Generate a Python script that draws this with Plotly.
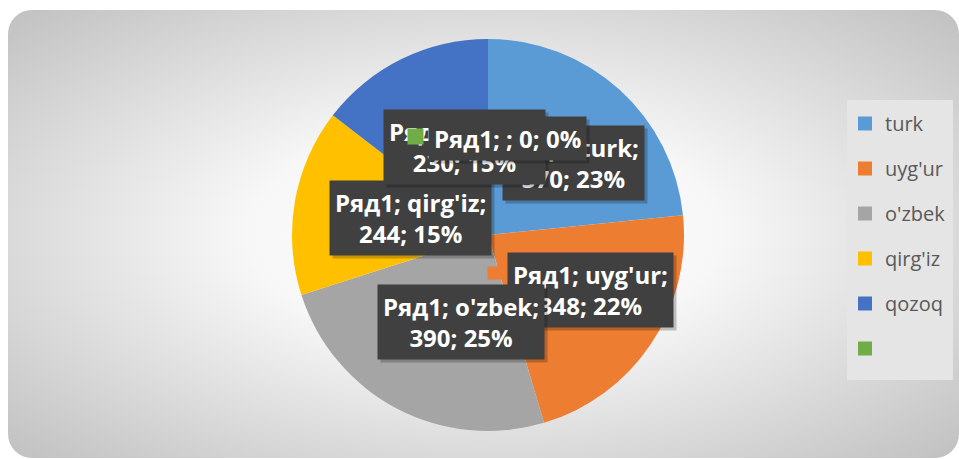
import base64
import plotly.graph_objects as go

# ---------------- data ----------------
series_name = "Ряд1"
categories = ["turk", "uyg'ur", "o'zbek", "qirg'iz", "qozoq", ""]
values = [370, 348, 390, 244, 230, 0]
colors = ["#5B9BD5", "#ED7D31", "#A5A5A5", "#FFC000", "#4472C4", "#70AD47"]

# ---------------- layout helpers ----------------
W, H = 959, 459


def px(x):
    return x / W


def py(y):
    return 1 - y / H


total = sum(values)
pcts = [round(v / total * 100) for v in values]

# label box centres (pixels) - layout only
label_centres = [(573, 163), (590, 290), (461, 322), (410, 218), (464, 147), (507, 138)]

fig = go.Figure()

# background image (rounded rect with radial gradient)
svg = (
    '<svg xmlns="http://www.w3.org/2000/svg" width="959" height="459" viewBox="0 0 959 459">'
    '<defs><radialGradient id="g" cx="50%" cy="50%" r="71%">'
    '<stop offset="0" stop-color="#ffffff"/><stop offset="0.35" stop-color="#f7f7f7"/>'
    '<stop offset="1" stop-color="#c0c0c0"/></radialGradient></defs>'
    '<rect x="8" y="10" width="951" height="448" rx="24" ry="24" fill="url(#g)"/></svg>'
)
src = "data:image/svg+xml;base64," + base64.b64encode(svg.encode()).decode()

cx, cy, r = 488, 235, 196
fig.add_trace(go.Pie(
    labels=[c if c else " " for c in categories],
    values=values,
    marker=dict(colors=colors, line=dict(width=0)),
    sort=False,
    direction="clockwise",
    rotation=0,
    textinfo="none",
    hoverinfo="label+value+percent",
    showlegend=False,
    domain=dict(x=[px(cx - r), px(cx + r)], y=[py(cy + r), py(cy - r)]),
))

# legend entries
for i, (c, col) in enumerate(zip(categories, colors)):
    fig.add_trace(go.Scatter(
        x=[None], y=[None], mode="markers", name=c,
        marker=dict(symbol="square", size=14, color=col),
        legendgroup=f"g{i}", showlegend=True, hoverinfo="skip",
    ))

annotations = []
label_font = dict(family="Open Sans", size=24, color="white", weight="bold")
common = dict(xref="paper", yref="paper", xanchor="center", yanchor="middle", showarrow=False)
for i, (c, v, p) in enumerate(zip(categories, values, pcts)):
    if c:
        txt = f"{series_name}; {c};<br>{v}; {p}%"
    else:
        txt = f"{series_name}; ; {v}; {p}%"
    x0, y0 = label_centres[i]
    # shadow
    annotations.append(dict(
        common, x=px(x0 + 3), y=py(y0 + 3), text=txt,
        font=dict(label_font, color="rgba(0,0,0,0)"),
        bgcolor="rgba(0,0,0,0.22)", borderpad=5, align="center",
    ))
    if i == 1:
        annotations.append(dict(
            common, x=px(497), y=py(273), text=" ",
            bgcolor=colors[1], width=18, height=12, borderpad=0,
        ))
    annotations.append(dict(
        common, x=px(x0), y=py(y0), text=txt, font=label_font,
        bgcolor="#404040", borderpad=5, align="center",
    ))
    if not c:
        annotations.append(dict(
            common, x=px(415), y=py(136), text=" ",
            bgcolor=colors[i], width=15, height=15, borderpad=0,
        ))

fig.update_layout(
    width=W, height=H,
    margin=dict(l=0, r=0, t=0, b=0),
    paper_bgcolor="white",
    plot_bgcolor="rgba(0,0,0,0)",
    xaxis=dict(visible=False),
    yaxis=dict(visible=False),
    images=[dict(source=src, xref="paper", yref="paper", x=0, y=1, sizex=1, sizey=1,
                 xanchor="left", yanchor="top", sizing="stretch", layer="below")],
    shapes=[dict(type="rect", xref="paper", yref="paper",
                 x0=px(847), x1=px(953), y0=py(380), y1=py(100),
                 fillcolor="#e5e5e5", line=dict(width=0), layer="below")],
    legend=dict(
        x=px(845), y=py(104), xanchor="left", yanchor="top",
        bgcolor="rgba(0,0,0,0)", tracegroupgap=16,
        font=dict(family="Open Sans", size=20, color="#595959"),
    ),
    annotations=annotations,
)

fig.write_html(
    "out.html",
    config={"displayModeBar": False},
    post_script="document.body.style.margin='0';document.body.style.overflow='hidden';",
)
